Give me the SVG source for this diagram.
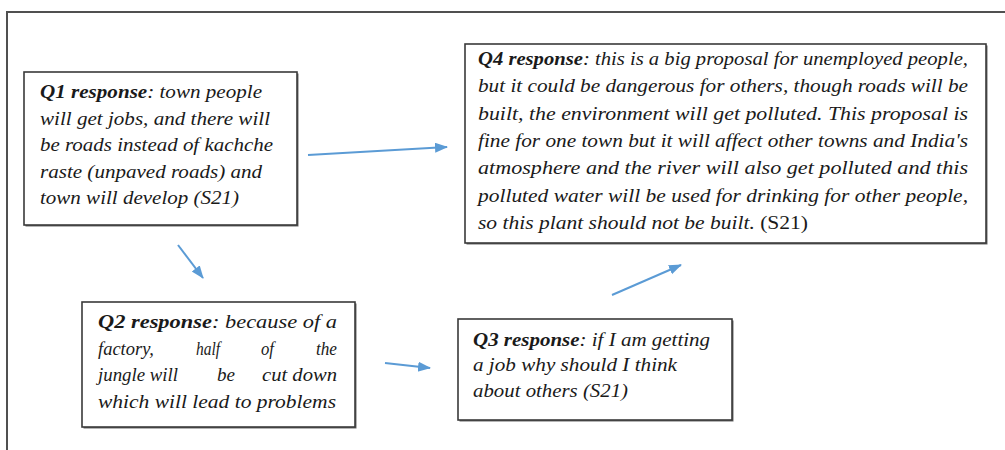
<svg xmlns="http://www.w3.org/2000/svg" width="1005" height="450" viewBox="0 0 1005 450">
<style>
.box{fill:#fff;stroke:#3a3a3a;stroke-width:1.6}
.sh{fill:#6a6a6a}
.t{font-family:"Liberation Serif","Times New Roman",serif;font-size:18px;font-style:italic;fill:#1a1a1a}
.b{font-weight:bold}
.up{font-style:normal}
.c{stroke:#5b9bd5;stroke-width:2;fill:none}
</style>
<defs>
<marker id="ah" markerUnits="userSpaceOnUse" markerWidth="14" markerHeight="12" refX="12" refY="5" orient="auto">
<path d="M0,0 L13,5 L0,10 Z" fill="#5b9bd5"/>
</marker>
</defs>
<rect width="1005" height="450" fill="#fff"/>
<path d="M1005,12 H7 V450" fill="none" stroke="#505050" stroke-width="2"/>
<g id="q1">
<rect class="sh" x="25.5" y="73.5" width="273" height="153"/>
<rect class="box" x="24" y="72" width="273" height="153"/>
<text class="t" x="40" y="98" textLength="222" lengthAdjust="spacingAndGlyphs"><tspan class="b">Q1 response</tspan>: town people</text>
<text class="t" x="40" y="124.5" textLength="230" lengthAdjust="spacingAndGlyphs">will get jobs, and there will</text>
<text class="t" x="40" y="151" textLength="233" lengthAdjust="spacingAndGlyphs">be roads instead of kachche</text>
<text class="t" x="40" y="177.5" textLength="222" lengthAdjust="spacingAndGlyphs">raste (unpaved roads) and</text>
<text class="t" x="40" y="204" textLength="199" lengthAdjust="spacingAndGlyphs">town will develop (S21)</text>
</g>
<g id="q4">
<rect class="sh" x="466.5" y="45.5" width="521" height="199"/>
<rect class="box" x="465" y="44" width="521" height="199"/>
<text class="t" x="478" y="65" textLength="490" lengthAdjust="spacingAndGlyphs"><tspan class="b">Q4 response</tspan>: this is a big proposal for unemployed people,</text>
<text class="t" x="478" y="92.3" textLength="490" lengthAdjust="spacingAndGlyphs">but it could be dangerous for others, though roads will be</text>
<text class="t" x="478" y="119.6" textLength="490" lengthAdjust="spacingAndGlyphs">built, the environment will get polluted. This proposal is</text>
<text class="t" x="478" y="146.9" textLength="490" lengthAdjust="spacingAndGlyphs">fine for one town but it will affect other towns and India's</text>
<text class="t" x="478" y="174.2" textLength="490" lengthAdjust="spacingAndGlyphs">atmosphere and the river will also get polluted and this</text>
<text class="t" x="478" y="201.5" textLength="490" lengthAdjust="spacingAndGlyphs">polluted water will be used for drinking for other people,</text>
<text class="t" x="478" y="228.8" textLength="330" lengthAdjust="spacingAndGlyphs">so this plant should not be built. <tspan class="up">(S21)</tspan></text>
</g>
<g id="q2">
<rect class="sh" x="83.5" y="303.5" width="273" height="125"/>
<rect class="box" x="82" y="302" width="273" height="125"/>
<text class="t" x="98" y="328" textLength="239" lengthAdjust="spacingAndGlyphs"><tspan class="b">Q2 response</tspan>: because of a</text>
<text class="t" y="355"><tspan x="98" textLength="56" lengthAdjust="spacingAndGlyphs">factory,</tspan><tspan x="196" textLength="24" lengthAdjust="spacingAndGlyphs">half</tspan><tspan x="261" textLength="13" lengthAdjust="spacingAndGlyphs">of</tspan><tspan x="316" textLength="21" lengthAdjust="spacingAndGlyphs">the</tspan></text>
<text class="t" y="381"><tspan x="98" textLength="80" lengthAdjust="spacingAndGlyphs">jungle will</tspan><tspan x="217" textLength="18" lengthAdjust="spacingAndGlyphs">be</tspan><tspan x="262" textLength="75" lengthAdjust="spacingAndGlyphs">cut down</tspan></text>
<text class="t" x="98" y="408" textLength="238" lengthAdjust="spacingAndGlyphs">which will lead to problems</text>
</g>
<g id="q3">
<rect class="sh" x="459.5" y="320.5" width="274" height="101"/>
<rect class="box" x="458" y="319" width="274" height="101"/>
<text class="t" x="473" y="346" textLength="237" lengthAdjust="spacingAndGlyphs"><tspan class="b">Q3 response</tspan>: if I am getting</text>
<text class="t" x="473" y="371" textLength="204" lengthAdjust="spacingAndGlyphs">a job why should I think</text>
<text class="t" x="473" y="397" textLength="155" lengthAdjust="spacingAndGlyphs">about others (S21)</text>
</g>
<g id="connectors">
<line class="c" x1="308" y1="155" x2="447" y2="147" marker-end="url(#ah)"/>
<line class="c" x1="178" y1="245" x2="203" y2="278" marker-end="url(#ah)"/>
<line class="c" x1="385" y1="363" x2="430" y2="368" marker-end="url(#ah)"/>
<line class="c" x1="612" y1="295" x2="681" y2="265" marker-end="url(#ah)"/>
</g>
</svg>
